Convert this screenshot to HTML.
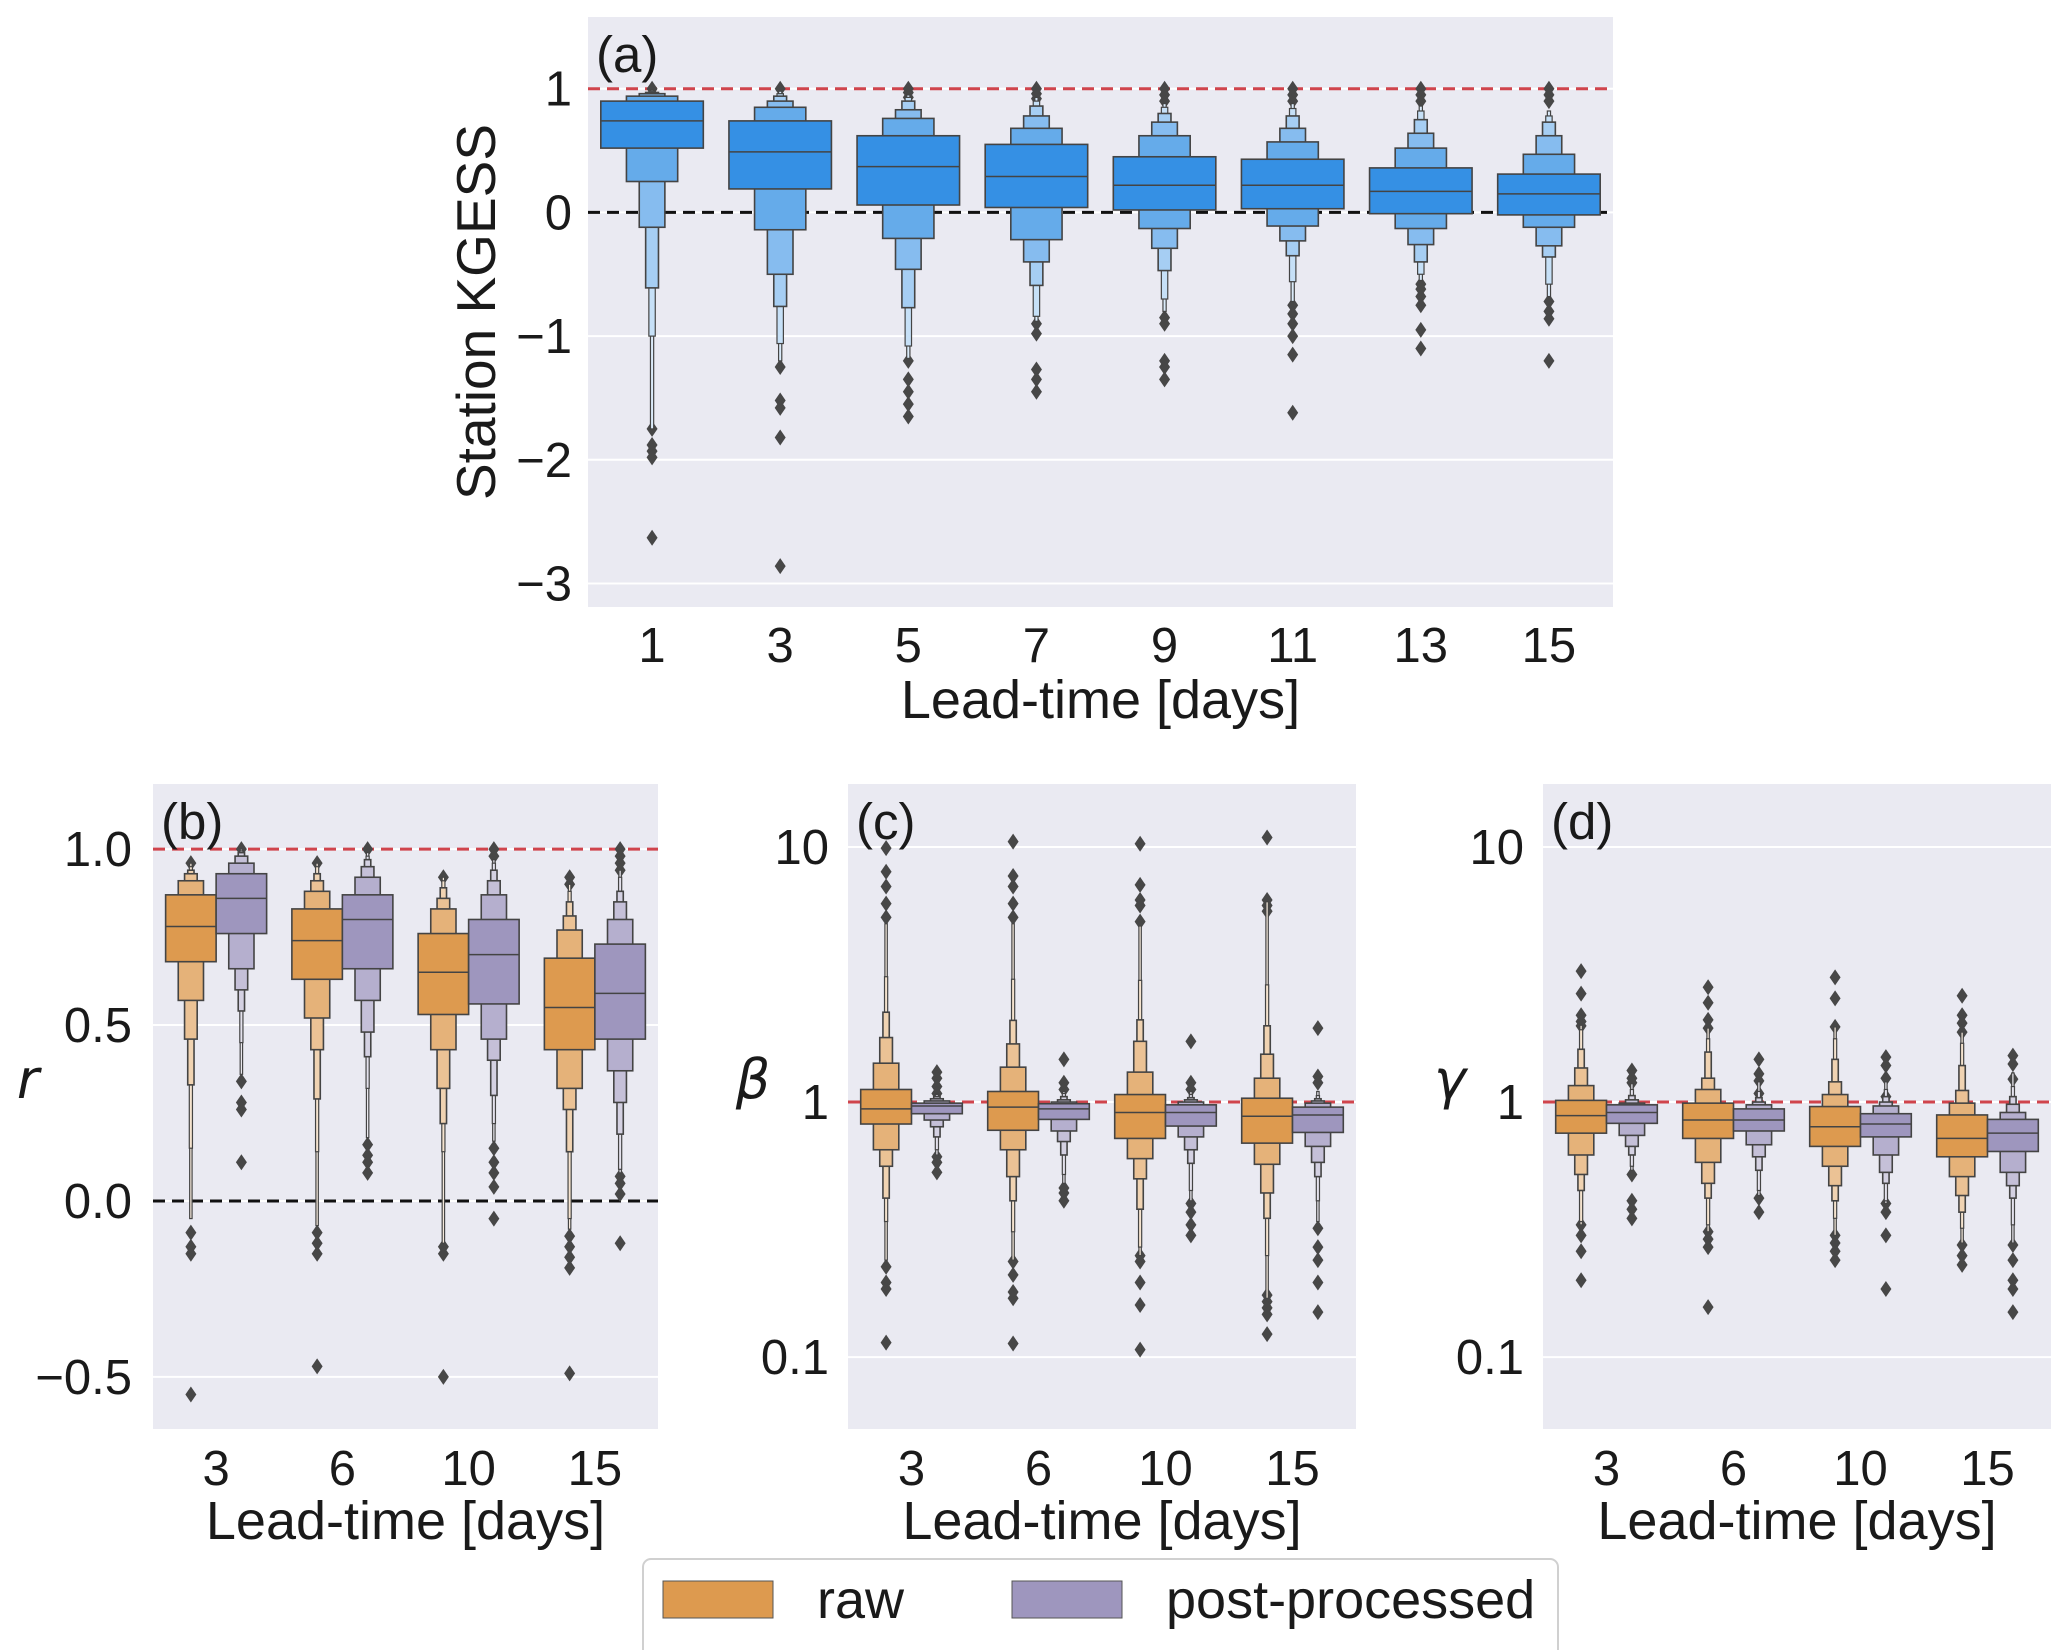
<!DOCTYPE html>
<html><head><meta charset="utf-8"><style>
html,body{margin:0;padding:0;background:#fff}
svg{display:block;font-family:"Liberation Sans",Arial,sans-serif}
</style></head><body>
<svg id="fig" width="2067" height="1650" viewBox="0 0 2067 1650" xmlns="http://www.w3.org/2000/svg"></svg>
<script>
// ---------- data: panel (a) Station KGESS ----------
const aCats=["1","3","5","7","9","11","13","15"];
const aTicks=[1,0,-1,-2,-3];
const aTickLabels=["1","0","\u22121","\u22122","\u22123"];
const aMed=[0.74,0.49,0.37,0.29,0.22,0.22,0.17,0.15];
const aLo=[[0.52,0.25,-0.12,-0.61,-1.0,-1.75],[0.19,-0.14,-0.5,-0.76,-1.06,-1.2],[0.06,-0.21,-0.46,-0.77,-1.08,-1.18],[0.04,-0.22,-0.4,-0.59,-0.84,-0.88],[0.02,-0.13,-0.29,-0.47,-0.7,-0.8],[0.03,-0.11,-0.23,-0.35,-0.56,-0.72],[-0.01,-0.13,-0.26,-0.4,-0.5,-0.55],[-0.02,-0.12,-0.27,-0.36,-0.58,-0.68]];
const aHi=[[0.90,0.94,0.96,0.97,0.98,0.99],[0.74,0.85,0.9,0.94,0.96,0.98],[0.62,0.76,0.83,0.9,0.93,0.95],[0.55,0.68,0.78,0.86,0.9,0.93],[0.45,0.62,0.73,0.8,0.85,0.88],[0.43,0.57,0.68,0.78,0.84,0.88],[0.36,0.52,0.64,0.75,0.82,0.86],[0.31,0.47,0.62,0.73,0.78,0.82]];
const aOut=[[1.0,-1.75,-1.88,-1.93,-1.98,-2.63],[1.0,-1.25,-1.52,-1.58,-1.82,-2.86],[0.93,0.97,1.0,-1.2,-1.35,-1.45,-1.55,-1.65],[0.92,0.96,1.0,-0.9,-0.98,-1.27,-1.35,-1.45],[0.9,0.95,1.0,-0.85,-0.9,-1.2,-1.25,-1.35],[0.9,0.95,1.0,-0.75,-0.82,-0.9,-1.0,-1.15,-1.62],[0.9,0.95,1.0,-0.58,-0.62,-0.68,-0.75,-0.95,-1.1],[0.9,0.95,1.0,-0.72,-0.8,-0.86,-1.2]];
// ---------- shared categories for (b)-(d) ----------
const lCats=["3","6","10","15"];
// ---------- panel (b) r ----------
const bTicks=[1.0,0.5,0.0,-0.5];
const bTickLabels=["1.0","0.5","0.0","\u22120.5"];
const bRawMed=[0.78,0.74,0.65,0.55];
const bRawLo=[[0.68,0.57,0.46,0.33,0.15,-0.05],[0.63,0.52,0.43,0.29,0.14,-0.07],[0.53,0.43,0.32,0.22,0.14,-0.12],[0.43,0.32,0.26,0.14,-0.05,-0.08]];
const bRawHi=[[0.87,0.91,0.93,0.94,0.95,0.96],[0.83,0.88,0.91,0.93,0.95,0.96],[0.76,0.83,0.86,0.89,0.91,0.92],[0.69,0.77,0.81,0.85,0.88,0.9]];
const bRawOut=[[0.96,-0.09,-0.13,-0.15,-0.55],[0.96,-0.09,-0.12,-0.15,-0.47],[0.92,-0.13,-0.15,-0.5],[0.9,0.92,-0.1,-0.13,-0.16,-0.19,-0.49]];
const bPostMed=[0.86,0.8,0.7,0.59];
const bPostLo=[[0.76,0.66,0.6,0.54,0.45,0.36],[0.66,0.57,0.48,0.41,0.32,0.18],[0.56,0.46,0.4,0.3,0.22,0.17],[0.46,0.37,0.28,0.19,0.09,0.08]];
const bPostHi=[[0.93,0.96,0.98,0.99,0.995,1.0],[0.87,0.92,0.95,0.97,0.98,0.99],[0.8,0.87,0.91,0.94,0.96,0.97],[0.73,0.8,0.85,0.88,0.92,0.94]];
const bPostOut=[[1.0,0.34,0.28,0.26,0.11],[1.0,0.16,0.13,0.11,0.08],[0.98,1.0,0.15,0.11,0.08,0.04,-0.05],[0.94,0.96,0.98,1.0,0.07,0.05,0.02,-0.12]];
// ---------- panel (c) beta (log) ----------
const logTicks=[10,1,0.1];
const logTickLabels=["10","1","0.1"];
const cRawMed=[0.94,0.955,0.91,0.88];
const cRawLo=[[0.82,0.65,0.56,0.42,0.34,0.24],[0.775,0.65,0.51,0.41,0.31,0.24],[0.72,0.6,0.5,0.38,0.27,0.25],[0.69,0.57,0.44,0.35,0.25,0.17]];
const cRawHi=[[1.12,1.42,1.79,2.25,3.1,5.0],[1.10,1.37,1.69,2.09,3.03,5.0],[1.07,1.31,1.73,2.1,3.0,4.9],[1.035,1.24,1.54,1.99,2.88,6.1]];
const cRawOut=[[9.9,8.0,7.0,6.0,5.3,0.226,0.196,0.185,0.114],[10.5,7.7,7.0,6.0,5.3,0.237,0.21,0.18,0.17,0.113],[10.3,7.1,6.2,5.9,5.1,0.25,0.237,0.196,0.16,0.107],[10.9,6.2,5.9,5.6,0.175,0.165,0.156,0.147,0.123]];
const cPostMed=[0.965,0.94,0.91,0.89];
const cPostLo=[[0.9,0.85,0.8,0.73,0.65,0.62],[0.855,0.77,0.7,0.62,0.52,0.48],[0.805,0.73,0.65,0.575,0.45,0.41],[0.76,0.67,0.58,0.51,0.41,0.34]];
const cPostHi=[[0.99,1.01,1.03,1.05,1.07,1.08],[0.985,1.0,1.02,1.05,1.08,1.1],[0.975,1.0,1.02,1.04,1.07,1.1],[0.955,0.99,1.01,1.03,1.06,1.1]];
const cPostOut=[[1.31,1.24,1.15,1.08,0.61,0.58,0.53],[1.47,1.19,1.12,0.46,0.44,0.41],[1.73,1.19,1.12,0.40,0.37,0.33,0.30],[1.95,1.26,1.19,0.32,0.27,0.24,0.196,0.15]];
// ---------- panel (d) gamma (log) ----------
const dRawMed=[0.885,0.85,0.80,0.72];
const dRawLo=[[0.755,0.62,0.52,0.45,0.34,0.33],[0.72,0.58,0.48,0.42,0.33,0.31],[0.67,0.56,0.47,0.41,0.35,0.30],[0.61,0.51,0.43,0.37,0.32,0.28]];
const dRawHi=[[1.015,1.16,1.36,1.61,1.92,2.0],[0.99,1.12,1.24,1.57,1.77,1.95],[0.96,1.07,1.2,1.47,1.77,1.97],[0.89,0.99,1.11,1.39,1.7,1.88]];
const dRawOut=[[3.26,2.66,2.19,2.07,1.99,0.33,0.30,0.26,0.20],[2.82,2.45,2.1,1.95,0.31,0.29,0.27,0.157],[3.08,2.55,1.97,0.30,0.28,0.26,0.24],[2.61,2.19,2.04,1.88,0.275,0.25,0.23]];
const dPostMed=[0.91,0.85,0.82,0.755];
const dPostLo=[[0.825,0.74,0.67,0.62,0.56,0.54],[0.77,0.68,0.61,0.54,0.45,0.43],[0.73,0.62,0.53,0.48,0.41,0.40],[0.64,0.53,0.47,0.42,0.33,0.28]];
const dPostHi=[[0.975,0.99,1.02,1.06,1.12,1.18],[0.94,0.975,1.0,1.04,1.1,1.2],[0.90,0.965,1.0,1.05,1.12,1.2],[0.855,0.91,0.98,1.05,1.15,1.3]];
const dPostOut=[[1.33,1.24,1.19,0.52,0.41,0.38,0.35],[1.47,1.29,1.21,1.08,0.42,0.37],[1.50,1.39,1.24,1.05,0.40,0.37,0.30,0.185],[1.52,1.41,1.23,0.275,0.24,0.20,0.185,0.15]];

const NS="http://www.w3.org/2000/svg";
const svg=document.getElementById('fig');
function el(tag,attrs,parent,text){const e=document.createElementNS(NS,tag);for(const k in attrs)e.setAttribute(k,attrs[k]);if(text!==undefined)e.textContent=text;(parent||svg).appendChild(e);return e;}
function mix(hex,t){const n=parseInt(hex.slice(1),16);const r=(n>>16)&255,g=(n>>8)&255,b=n&255;const f=c=>Math.round(c+(255-c)*t);return `rgb(${f(r)},${f(g)},${f(b)})`;}

function panel(cfg){
  const g=el('g',{});
  
  
  const L=cfg.left,R=cfg.right,T=cfg.top,B=cfg.bottom;
  const bg=el('rect',{x:L,y:T,width:R-L,height:B-T,fill:'#eaeaf2'},g);
  
  
  const tf=cfg.log?(v=>Math.log10(v)):(v=>v);
  const y=v=>B-(tf(v)-cfg.ymin)/(cfg.ymax-cfg.ymin)*(B-T);
  const n=cfg.cats.length, band=(R-L)/n;
  const x=i=>L+band*(i+0.5);
  cfg.ticks.forEach((t,i)=>{
    const gl=el('line',{x1:L,x2:R,y1:y(t),y2:y(t),stroke:'#fff','stroke-width':2},g);
    
    
    const tl=el('text',{x:cfg.tickX,y:y(t)+17,'text-anchor':'end','font-size':49,fill:'#1a1a1a'},g,cfg.tickLabels[i]);
    
    
  });
  cfg.cats.forEach((c,i)=>{
    const tl=el('text',{x:x(i),y:cfg.xTickY,'text-anchor':'middle','font-size':49,fill:'#1a1a1a'},g,c);
    
    
  });
  cfg.refs.forEach(r=>{
    const ln=el('line',{x1:L,x2:R,y1:y(r.v),y2:y(r.v),stroke:r.c,'stroke-width':3,'stroke-dasharray':'12,7'},g);
    
    
  });
  const series=cfg.series, ns=series.length;
  const totalW=band*0.8, sw=totalW/ns;
  series.forEach((s,si)=>{
    s.med.forEach((m,i)=>{
      const cx=x(i)-totalW/2+sw*(si+0.5);
      const bg2=el('g',{},g);
      
      
      const lo=s.lo[i],hi=s.hi[i],k=lo.length;
      s.out[i].forEach(v=>{
        const yy=y(v);
        const d=el('path',{d:`M${cx},${yy-8}L${cx+5.5},${yy}L${cx},${yy+8}L${cx-5.5},${yy}Z`,fill:'#474747'},bg2);
        
        
      });
      for(let j=k-1;j>=0;j--){
        const w=Math.max(sw/Math.pow(2,j),2.4);
        const rc=el('rect',{x:cx-w/2,y:y(hi[j]),width:w,height:Math.max(y(lo[j])-y(hi[j]),0.5),fill:mix(s.color,Math.min(0.16*j+(j>0?0.08:0),0.82)),stroke:'#444','stroke-width':j>=4?1.2:1.6},bg2);
        
        
      }
      const ml=el('line',{x1:cx-sw/2,x2:cx+sw/2,y1:y(m),y2:y(m),stroke:'#444','stroke-width':1.5},bg2);
      
      
    });
  });
  const pl=el('text',{x:L+8,y:T+55,'font-size':51,fill:'#1a1a1a'},g,cfg.label);
  
  
  const xl=el('text',{x:(L+R)/2,y:cfg.xLabelY,'text-anchor':'middle','font-size':54,fill:'#1a1a1a'},g,'Lead-time [days]');
  
  
  const yl=el('text',cfg.yLabelAttrs,g,cfg.yLabel);
  
  
}

panel({name:'panel-a-kgess',left:588,right:1613,top:17,bottom:607,ymin:-3.19,ymax:1.58,cats:aCats,ticks:aTicks,tickLabels:aTickLabels,tickX:572,xTickY:662,xLabelY:718,label:'(a)',
  refs:[{v:1,c:'#d0444c',name:'perfect-score-line'},{v:0,c:'#111',name:'zero-line'}],
  series:[{name:'kgess',color:'#3590e4',med:aMed,lo:aLo,hi:aHi,out:aOut}],
  yLabel:'Station KGESS',yLabelAttrs:{x:0,y:0,transform:'translate(495,312) rotate(-90)','text-anchor':'middle','font-size':55,fill:'#1a1a1a'}});
panel({name:'panel-b-r',left:153,right:658,top:784,bottom:1429,ymin:-0.648,ymax:1.185,cats:lCats,ticks:bTicks,tickLabels:bTickLabels,tickX:132,xTickY:1485,xLabelY:1539,label:'(b)',
  refs:[{v:1,c:'#d0444c',name:'perfect-score-line'},{v:0,c:'#111',name:'zero-line'}],
  series:[{name:'raw',color:'#dd9a4f',med:bRawMed,lo:bRawLo,hi:bRawHi,out:bRawOut},{name:'post-processed',color:'#9e96be',med:bPostMed,lo:bPostLo,hi:bPostHi,out:bPostOut}],
  yLabel:'r',yLabelAttrs:{x:28,y:1098,'text-anchor':'middle','font-size':54,'font-style':'italic',fill:'#1a1a1a','font-family':'DejaVu Sans, sans-serif'}});
panel({name:'panel-c-beta',left:848,right:1356,top:784,bottom:1429,ymin:-1.282,ymax:1.247,log:true,cats:lCats,ticks:logTicks,tickLabels:logTickLabels,tickX:829,xTickY:1485,xLabelY:1539,label:'(c)',
  refs:[{v:1,c:'#d0444c',name:'perfect-score-line'}],
  series:[{name:'raw',color:'#dd9a4f',med:cRawMed,lo:cRawLo,hi:cRawHi,out:cRawOut},{name:'post-processed',color:'#9e96be',med:cPostMed,lo:cPostLo,hi:cPostHi,out:cPostOut}],
  yLabel:'\u03b2',yLabelAttrs:{x:753,y:1098,'text-anchor':'middle','font-size':54,'font-style':'italic',fill:'#1a1a1a','font-family':'DejaVu Sans, sans-serif'}});
panel({name:'panel-d-gamma',left:1543,right:2051,top:784,bottom:1429,ymin:-1.282,ymax:1.247,log:true,cats:lCats,ticks:logTicks,tickLabels:logTickLabels,tickX:1524,xTickY:1485,xLabelY:1539,label:'(d)',
  refs:[{v:1,c:'#d0444c',name:'perfect-score-line'}],
  series:[{name:'raw',color:'#dd9a4f',med:dRawMed,lo:dRawLo,hi:dRawHi,out:dRawOut},{name:'post-processed',color:'#9e96be',med:dPostMed,lo:dPostLo,hi:dPostHi,out:dPostOut}],
  yLabel:'\u03b3',yLabelAttrs:{x:1450,y:1098,'text-anchor':'middle','font-size':54,'font-style':'italic',fill:'#1a1a1a','font-family':'DejaVu Sans, sans-serif'}});

const lg=el('g',{});


const lb=el('rect',{x:643,y:1559,width:915,height:110,rx:8,fill:'#fff',stroke:'#d0d0d0','stroke-width':2},lg);


[['raw','#dd9a4f',663,817],['post-processed','#9e96be',1012,1166]].forEach(e=>{
  const ent=el('g',{},lg);
  
  
  const p=el('rect',{x:e[2],y:1581,width:110,height:37,fill:e[1],stroke:'#555','stroke-width':1},ent);
  
  
  const t=el('text',{x:e[3],y:1618,'font-size':54,fill:'#1a1a1a'},ent,e[0]);
  
  
});
</script>
</body></html>
